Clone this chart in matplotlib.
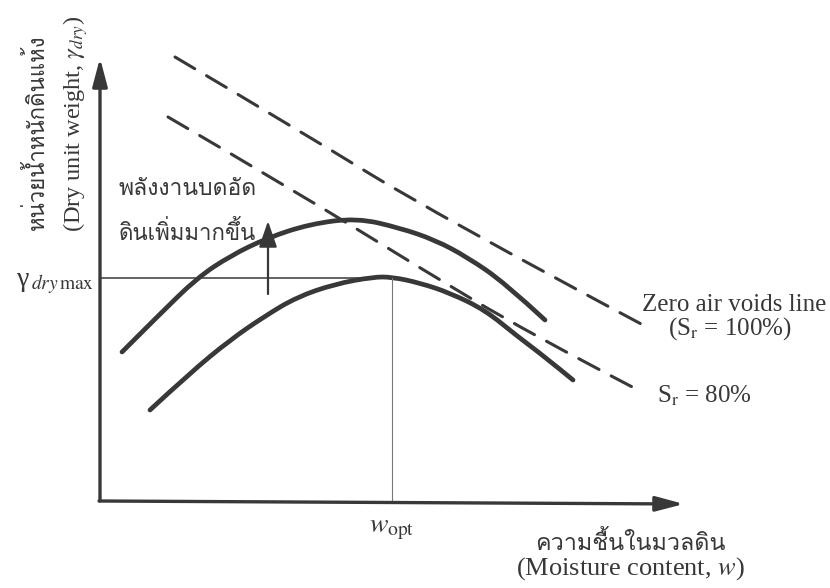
import matplotlib
matplotlib.use("Agg")
import matplotlib.pyplot as plt
from matplotlib import font_manager
from matplotlib.ft2font import FT2Font
from matplotlib.path import Path
from matplotlib.patches import PathPatch

# compaction curves (x = moisture, y = drawing height, down is lower)
high_x = [122, 160, 197, 230, 267, 310, 357, 400, 435, 467, 505, 545]
high_y = [352, 314, 278, 256, 238, 224, 218, 228, 240, 257, 283, 320]
low_x = [150, 190, 230, 265, 297, 335, 373, 392, 420, 450, 485, 517, 545, 573]
low_y = [410, 373, 340, 316, 297, 284, 277, 277, 283, 293, 310, 336, 357, 380]

# saturation lines
zav_x = [175, 300, 437, 643]
zav_y = [57, 131, 215, 325]
sr80_x = [168, 300, 420, 527, 638]
sr80_y = [117, 194, 268, 332, 390]

w_opt = 392
gamma_max = 278
origin = (100, 501)
x_end = 684
y_end = 58


def thai_font():
    # look for any installed font that has Thai letters
    for f in font_manager.fontManager.ttflist:
        try:
            if ord("ก") in FT2Font(f.fname).get_charmap():
                return f.name
        except Exception:
            pass
    return "DejaVu Sans"


def smooth(xs, ys):
    # quadratic b-spline through the read points, drawn by matplotlib's path
    pts = list(zip(xs, ys))
    verts = [pts[0]]
    codes = [Path.MOVETO]
    for i in range(1, len(pts) - 1):
        if i == len(pts) - 2:
            end = pts[-1]
        else:
            end = ((pts[i][0] + pts[i + 1][0]) / 2, (pts[i][1] + pts[i + 1][1]) / 2)
        verts += [pts[i], end]
        codes += [Path.CURVE3, Path.CURVE3]
    return Path(verts, codes)


thai = thai_font()
serif = ["Liberation Serif", "DejaVu Serif"]
plt.rcParams["mathtext.fontset"] = "stix"
ink = "#383838"

fig = plt.figure(figsize=(8.3, 5.88), dpi=100)
ax = fig.add_axes([0, 0, 1, 1])
ax.set_xlim(0, 830)
ax.set_ylim(588, 0)
ax.axis("off")

# axes with arrow heads
ax.annotate("", xy=(origin[0], y_end), xytext=origin,
            arrowprops=dict(arrowstyle="-|>,head_length=1.7,head_width=0.45",
                            color=ink, lw=2.4, shrinkA=0, shrinkB=0))
ax.annotate("", xy=(x_end, origin[1] + 3), xytext=(origin[0] - 1, origin[1]),
            arrowprops=dict(arrowstyle="-|>,head_length=1.7,head_width=0.45",
                            color=ink, lw=2.4, shrinkA=0, shrinkB=0))

# optimum guide lines
ax.plot([origin[0], w_opt], [gamma_max, gamma_max], color=ink, lw=1.1)
ax.plot([w_opt, w_opt], [gamma_max, origin[1]], color="#777777", lw=0.8)

# curves
for xs, ys in [(high_x, high_y), (low_x, low_y)]:
    ax.add_patch(PathPatch(smooth(xs, ys), fill=False, edgecolor=ink, lw=3.4,
                           capstyle="round", joinstyle="round"))
ax.add_patch(PathPatch(smooth(zav_x, zav_y), fill=False, edgecolor=ink, lw=2.2,
                       linestyle=(0, (7.5, 4.5)), capstyle="round"))
ax.add_patch(PathPatch(smooth(sr80_x, sr80_y), fill=False, edgecolor=ink, lw=2.2,
                       linestyle=(0, (7.5, 4.5)), capstyle="round"))

# energy arrow
ax.annotate("", xy=(268, 221), xytext=(268, 294),
            arrowprops=dict(arrowstyle="-|>,head_length=1.6,head_width=0.55",
                            color=ink, lw=1.6, shrinkA=0, shrinkB=0))

# labels
ax.text(37, 132, "หน่วยน้ำหนักดินแห้ง", rotation=90, ha="center", va="center",
        fontsize=16, color=ink, family=[thai] + serif)
ax.text(76, 124, r"(Dry unit weight, $\gamma_{dry}$)", rotation=90, ha="center",
        va="center", fontsize=17.5, color=ink, family=serif)
ax.text(94, 284, r"γ$_{\,dry\,\mathrm{max}}$", ha="right", va="center",
        fontsize=20, color=ink, family=serif)
ax.text(118, 195, "พลังงานบดอัด", ha="left", va="baseline", fontsize=16.5,
        color=ink, family=[thai] + serif)
ax.text(118, 240, "ดินเพิ่มมากขึ้น", ha="left", va="baseline", fontsize=16,
        color=ink, family=[thai] + serif)
ax.text(642, 305, "Zero air voids line", ha="left", va="center", fontsize=18,
        color=ink, family=serif)
ax.text(668, 329, r"(S$_\mathrm{r}$ = 100%)", ha="left", va="center", fontsize=18,
        color=ink, family=serif)
ax.text(657, 396, r"S$_\mathrm{r}$ = 80%", ha="left", va="center", fontsize=18,
        color=ink, family=serif)
ax.text(w_opt, 528, r"$w_{\mathrm{opt}}$", ha="center", va="center", fontsize=20,
        color=ink)
ax.text(630, 543, "ความชื้นในมวลดิน", ha="center", va="center", fontsize=16.8,
        color=ink, family=[thai] + serif)
ax.text(630, 569, r"(Moisture content, $w$)", ha="center", va="center", fontsize=19,
        color=ink, family=serif)

fig.savefig("out.png", dpi=100, facecolor="white")
